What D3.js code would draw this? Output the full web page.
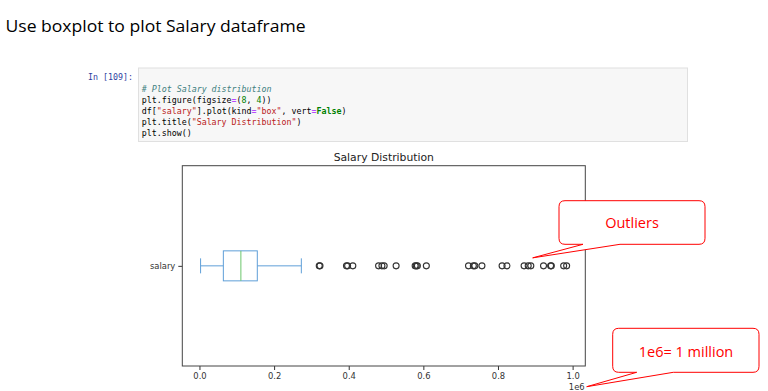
<!DOCTYPE html>
<html>
<head>
<meta charset="utf-8">
<script src="https://cdn.jsdelivr.net/npm/d3@7"></script>
<style>
  body { margin: 0; background: #fff; }
  svg { display: block; }
</style>
</head>
<body>
<script>
// values in units of 1e6 (salary)
const categories = ["salary"];
const boxValues = [0.003, 0.064, 0.111, 0.155, 0.273]; // low whisker, q1, median, q3, high whisker
const outliers = [0.321, 0.323, 0.394, 0.397, 0.411, 0.480, 0.489, 0.495, 0.527,
  0.578, 0.581, 0.584, 0.608, 0.721, 0.734, 0.738, 0.757, 0.811, 0.824,
  0.870, 0.881, 0.888, 0.922, 0.941, 0.943, 0.976, 0.984];
const xTicks = [0, 0.2, 0.4, 0.6, 0.8, 1.0];
const codeLines = [
  [["# Plot Salary distribution", "#408080", "italic"]],
  [["plt.figure(figsize", "#000"], ["=", "#aa22ff"], ["(", "#000"], ["8", "#008000"], [", ", "#000"], ["4", "#008000"], ["))", "#000"]],
  [["df[", "#000"], ["\"salary\"", "#ba2121"], ["].plot(kind", "#000"], ["=", "#aa22ff"], ["\"box\"", "#ba2121"], [", vert", "#000"], ["=", "#aa22ff"], ["False", "#008000", "normal", "bold"], [")", "#000"]],
  [["plt.title(", "#000"], ["\"Salary Distribution\"", "#ba2121"], [")", "#000"]],
  [["plt.show()", "#000"]]
];

const width = 768, height = 391;
const svg = d3.select("body").append("svg")
  .attr("width", width)
  .attr("height", height);

// heading
svg.append("text")
  .attr("x", 5.5).attr("y", 32)
  .attr("font-family", "Open Sans, sans-serif")
  .attr("font-size", 16)
  .attr("fill", "#000")
  .attr("textLength", 300)
  .attr("lengthAdjust", "spacingAndGlyphs")
  .text("Use boxplot to plot Salary dataframe");

// code cell
svg.append("text")
  .attr("x", 133).attr("y", 80)
  .attr("text-anchor", "end")
  .attr("font-family", "DejaVu Sans Mono, monospace")
  .attr("font-size", 8.3)
  .attr("fill", "#303f9f")
  .text("In [109]:");

svg.append("rect")
  .attr("x", 138.5).attr("y", 68)
  .attr("width", 549).attr("height", 73.5)
  .attr("fill", "#f7f7f7")
  .attr("stroke", "#e0e0e0");

const code = svg.append("g")
  .attr("font-family", "DejaVu Sans Mono, monospace")
  .attr("font-size", 8.3);
codeLines.forEach((parts, i) => {
  const t = code.append("text")
    .attr("x", 141.7)
    .attr("y", 91.5 + i * 11)
    .attr("xml:space", "preserve");
  parts.forEach(p => {
    t.append("tspan")
      .attr("fill", p[1])
      .attr("font-style", p[2] || "normal")
      .attr("font-weight", p[3] || "normal")
      .text(p[0]);
  });
});

// chart
const plot = { left: 182.3, right: 585.3, top: 165.7, bottom: 366 };

const x = d3.scaleLinear()
  .domain([-0.046, 1.034])
  .range([plot.left, plot.right]);

const y = d3.scalePoint()
  .domain(categories)
  .range([plot.bottom, plot.top])
  .padding(0.5);

const g = svg.append("g");

g.append("text")
  .attr("x", (plot.left + plot.right) / 2)
  .attr("y", plot.top - 5)
  .attr("text-anchor", "middle")
  .attr("font-family", "DejaVu Sans, sans-serif")
  .attr("font-size", 10.8)
  .attr("fill", "#222")
  .text("Salary Distribution");

g.append("g")
  .attr("transform", `translate(0,${plot.bottom})`)
  .call(d3.axisBottom(x).tickValues(xTicks).tickSize(4).tickPadding(3).tickFormat(d3.format(".1f")))
  .call(a => a.select(".domain").remove())
  .call(a => a.selectAll("text").attr("font-family", "DejaVu Sans, sans-serif").attr("font-size", 8.4).attr("fill", "#333"))
  .call(a => a.selectAll("line").attr("stroke", "#333"));

g.append("g")
  .attr("transform", `translate(${plot.left},0)`)
  .call(d3.axisLeft(y).tickSize(4).tickPadding(3))
  .call(a => a.select(".domain").remove())
  .call(a => a.selectAll("text").attr("font-family", "DejaVu Sans, sans-serif").attr("font-size", 8.4).attr("fill", "#333"))
  .call(a => a.selectAll("line").attr("stroke", "#333"));

// offset label, sits on the bottom edge as in the source
g.append("text")
  .attr("x", x(1.0) + 12)
  .attr("y", 389.5)
  .attr("text-anchor", "end")
  .attr("font-family", "DejaVu Sans, sans-serif")
  .attr("font-size", 8.4)
  .attr("fill", "#333")
  .text("1e6");

g.append("rect")
  .attr("x", plot.left).attr("y", plot.top)
  .attr("width", plot.right - plot.left)
  .attr("height", plot.bottom - plot.top)
  .attr("fill", "none")
  .attr("stroke", "#444")
  .attr("stroke-width", 1);

// box
const cy = y(categories[0]);
const boxH = 30, capH = 15;
const blue = "#5f9fd8";
const [lo, q1, med, q3, hi] = boxValues;

g.append("line")
  .attr("x1", x(lo)).attr("x2", x(q1))
  .attr("y1", cy).attr("y2", cy)
  .attr("stroke", blue);
g.append("line")
  .attr("x1", x(q3)).attr("x2", x(hi))
  .attr("y1", cy).attr("y2", cy)
  .attr("stroke", blue);
[lo, hi].forEach(v => {
  g.append("line")
    .attr("x1", x(v)).attr("x2", x(v))
    .attr("y1", cy - capH / 2).attr("y2", cy + capH / 2)
    .attr("stroke", blue);
});
g.append("rect")
  .attr("x", x(q1)).attr("y", cy - boxH / 2)
  .attr("width", x(q3) - x(q1)).attr("height", boxH)
  .attr("fill", "none")
  .attr("stroke", blue);
g.append("line")
  .attr("x1", x(med)).attr("x2", x(med))
  .attr("y1", cy - boxH / 2).attr("y2", cy + boxH / 2)
  .attr("stroke", "#6cc66c");

g.selectAll("circle.flier")
  .data(outliers)
  .enter()
  .append("circle")
  .attr("class", "flier")
  .attr("cx", d => x(d))
  .attr("cy", cy)
  .attr("r", 3)
  .attr("fill", "none")
  .attr("stroke", "#333")
  .attr("stroke-width", 1.1);

// callouts
function callout(x0, y0, x1, y1, b0, b1, tip, label, tx, ty) {
  const r = 6;
  const p = d3.path();
  p.moveTo(x0 + r, y0);
  p.lineTo(x1 - r, y0);
  p.quadraticCurveTo(x1, y0, x1, y0 + r);
  p.lineTo(x1, y1 - r);
  p.quadraticCurveTo(x1, y1, x1 - r, y1);
  p.lineTo(b1, y1);
  p.lineTo(tip[0], tip[1]);
  p.lineTo(b0, y1);
  p.lineTo(x0 + r, y1);
  p.quadraticCurveTo(x0, y1, x0, y1 - r);
  p.lineTo(x0, y0 + r);
  p.quadraticCurveTo(x0, y0, x0 + r, y0);
  p.closePath();
  svg.append("path")
    .attr("d", p.toString())
    .attr("fill", "#fff")
    .attr("stroke", "#ff0000")
    .attr("stroke-width", 1);
  svg.append("text")
    .attr("x", tx).attr("y", ty)
    .attr("text-anchor", "middle")
    .attr("dominant-baseline", "central")
    .attr("font-family", "Open Sans, sans-serif")
    .attr("font-size", 14.5)
    .attr("fill", "#ff0000")
    .text(label);
}

callout(559, 200.7, 705, 244.3, 583, 620, [x(0.893), cy - 8], "Outliers", 632, 222.5);
callout(612.7, 328.3, 759, 372.3, 636.7, 673.3, [586.7, 386.7], "1e6= 1 million", 686, 351.5);
</script>
</body>
</html>
